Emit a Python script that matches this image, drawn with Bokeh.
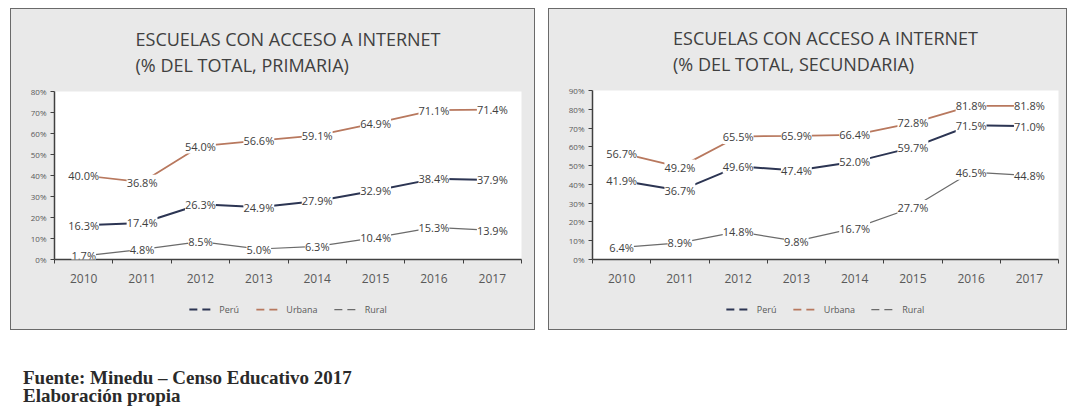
from bokeh.plotting import figure
from bokeh.models import (ColumnDataSource, LabelSet, Legend, LegendItem, FixedTicker,
                          PrintfTickFormatter, Range1d, Title, Div)
from bokeh.core.properties import value
from bokeh.layouts import row, column
from bokeh.embed import file_html
from bokeh.resources import INLINE

years = ["2010", "2011", "2012", "2013", "2014", "2015", "2016", "2017"]
series_names = ["Perú", "Urbana", "Rural"]

prim_peru = [16.3, 17.4, 26.3, 24.9, 27.9, 32.9, 38.4, 37.9]
prim_urbana = [40.0, 36.8, 54.0, 56.6, 59.1, 64.9, 71.1, 71.4]
prim_rural = [1.7, 4.8, 8.5, 5.0, 6.3, 10.4, 15.3, 13.9]

sec_peru = [41.9, 36.7, 49.6, 47.4, 52.0, 59.7, 71.5, 71.0]
sec_urbana = [56.7, 49.2, 65.5, 65.9, 66.4, 72.8, 81.8, 81.8]
sec_rural = [6.4, 8.9, 14.8, 9.8, 16.7, 27.7, 46.5, 44.8]

title_line1 = "ESCUELAS CON ACCESO A INTERNET"
title_prim = "(% DEL TOTAL, PRIMARIA)"
title_sec = "(% DEL TOTAL, SECUNDARIA)"
footer_lines = ["Fuente: Minedu \u2013 Censo Educativo 2017", "Elaboración propia"]

COLORS = ["#2c3553", "#b8785e", "#6b6b6b"]
WIDTHS = [2.0, 1.75, 1.25]
FONT = "Open Sans"
PANEL_BG = "#e9e9e9"


def make_panel(sub, data, ymax, width, bl, br, bt, fh, margin):
    x = list(range(len(years)))
    main_h = 280
    p = figure(width=width, height=main_h, output_backend="svg", toolbar_location=None,
               x_range=Range1d(-0.5, len(years) - 0.5), y_range=Range1d(0, ymax),
               min_border_left=bl, min_border_right=br, min_border_top=bt,
               min_border_bottom=main_h - bt - fh,
               background_fill_color="white", border_fill_color=PANEL_BG,
               outline_line_color=None, margin=0)
    p.xgrid.visible = False
    p.ygrid.visible = False

    sources = []
    for name, vals, col, w in zip(series_names, data, COLORS, WIDTHS):
        src = ColumnDataSource(dict(x=x, y=vals, lbl=[f"{v:.1f}%" for v in vals]))
        p.line("x", "y", source=src, line_color=col, line_width=w)
        sources.append(src)
    for src in sources:
        p.add_layout(LabelSet(x="x", y="y", text="lbl", source=src, text_align="center",
                              text_baseline="middle", text_font_size=value("11px"),
                              text_font=value(FONT), text_color="#404040",
                              background_fill_color="white"))

    xa = p.xaxis[0]
    xa.ticker = FixedTicker(ticks=x, minor_ticks=[i - 0.5 for i in range(len(years) + 1)])
    xa.major_label_overrides = {i: y for i, y in enumerate(years)}
    xa.major_tick_out = 0
    xa.major_tick_in = 0
    xa.minor_tick_out = 4
    xa.minor_tick_in = 0
    xa.minor_tick_line_color = "#404040"
    xa.axis_line_color = "#404040"
    xa.axis_line_width = 1.5
    xa.major_label_text_font = FONT
    xa.major_label_text_font_size = "12px"
    xa.major_label_text_color = "#595959"
    xa.major_label_standoff = 10

    ya = p.yaxis[0]
    ya.ticker = FixedTicker(ticks=list(range(0, ymax + 1, 10)))
    ya.formatter = PrintfTickFormatter(format="%d%%")
    ya.major_tick_out = 4
    ya.major_tick_in = 0
    ya.minor_tick_out = 0
    ya.minor_tick_in = 0
    ya.major_tick_line_color = "#404040"
    ya.axis_line_color = "#404040"
    ya.axis_line_width = 1.5
    ya.major_label_text_font = FONT
    ya.major_label_text_font_size = "8px"
    ya.major_label_text_color = "#595959"
    ya.major_label_standoff = 4

    p.add_layout(Title(text=title_line1 + "\n" + sub, align="center", text_font=FONT,
                       text_font_size="18px", text_font_style="normal",
                       text_color="#404040", text_line_height=1.1, standoff=29), "above")

    # legend strip below the chart (series drawn outside its visible range)
    lg = figure(width=width, height=40, output_backend="svg", toolbar_location=None,
                x_range=Range1d(-3, -2), y_range=Range1d(-3, -2),
                min_border=0, min_border_left=0, min_border_right=0,
                min_border_top=0, min_border_bottom=0,
                background_fill_color=PANEL_BG, background_fill_alpha=0,
                border_fill_color=PANEL_BG, outline_line_color=None, margin=0)
    lg.axis.visible = False
    lg.grid.visible = False
    items = []
    for name, vals, col, w in zip(series_names, data, COLORS, WIDTHS):
        r = lg.line(x=x, y=vals, line_color=col, line_width=w, line_dash="8 5")
        items.append(LegendItem(label=name, renderers=[r]))
    legend = Legend(items=items, orientation="horizontal", location="center",
                    label_text_font=FONT, label_text_font_size="9px",
                    label_text_color="#595959", glyph_width=26,
                    spacing=16, background_fill_alpha=0, border_line_alpha=0)
    lg.add_layout(legend, "center")

    return column(p, lg, margin=margin, spacing=0,
                  styles={"border": "1.5px solid #6a6a6a", "background-color": PANEL_BG})


c1 = make_panel(title_prim, [prim_peru, prim_urbana, prim_rural], 80,
                523, 43, 13, 82, 168, (8, 0, 0, 10))
c2 = make_panel(title_sec, [sec_peru, sec_urbana, sec_rural], 90,
                517, 43, 8, 81, 169, (8, 0, 0, 13))

footer = Div(text="<br>".join(footer_lines), margin=(39, 0, 0, 23),
             styles={"font-family": "'Liberation Serif', serif", "font-weight": "bold",
                     "font-size": "19px", "line-height": "18px", "color": "#2a2a2a"})

layout = column(row(c1, c2), footer)
open("out.html", "w").write(file_html(layout, INLINE))
